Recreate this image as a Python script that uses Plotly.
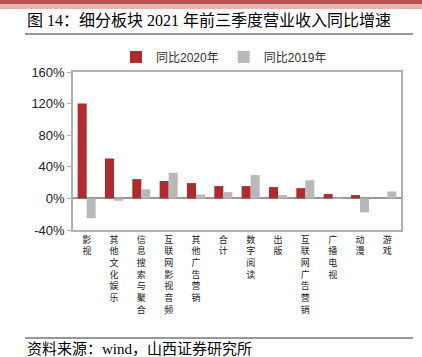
import plotly.graph_objects as go

categories = ["影视", "其他文化娱乐", "信息搜索与聚合", "互联网影视音频", "其他广告营销", "合计",
              "数字阅读", "出版", "互联网广告营销", "广播电视", "动漫", "游戏"]
yoy_2020 = [120.0, 50.5, 24.4, 22.0, 19.4, 15.6, 15.6, 14.3, 13.0, 5.5, 4.2, 0.0]
yoy_2019 = [-25.0, -3.0, 11.4, 32.4, 5.0, 8.0, 29.5, 4.2, 23.0, -0.5, -17.7, 8.8]
y_ticks = [-40, 0, 40, 80, 120, 160]

tick_text = ["<br>".join(list(c)) for c in categories]

fig = go.Figure()
fig.add_trace(go.Bar(x=categories, y=yoy_2020, name="同比2020年",
                     marker=dict(color="#b02a2e", line=dict(width=0))))
fig.add_trace(go.Bar(x=categories, y=yoy_2019, name="同比2019年",
                     marker=dict(color="#b8b8b8", line=dict(width=0))))

W, H = 422, 357
L, R, T, B = 73, 401, 72, 230
pw, ph = R - L, B - T

def px_x(x):
    return (x - L) / pw

def px_y(y):
    return (B - y) / ph

shapes = [
    dict(type="rect", xref="paper", yref="paper", x0=px_x(0), x1=px_x(W), y0=px_y(4), y1=px_y(0),
         fillcolor="#c0504d", line=dict(width=0), layer="above"),
    dict(type="rect", xref="paper", yref="paper", x0=px_x(0), x1=px_x(W), y0=px_y(9), y1=px_y(4),
         fillcolor="#e8b4b2", line=dict(width=0), layer="above"),
    dict(type="line", xref="paper", yref="paper", x0=px_x(25), x1=px_x(413), y0=px_y(34), y1=px_y(34),
         line=dict(color="#333333", width=1)),
    dict(type="line", xref="paper", yref="paper", x0=px_x(25), x1=px_x(413), y0=px_y(338), y1=px_y(338),
         line=dict(color="#333333", width=1)),
]

annotations = [
    dict(text="图 14：细分板块 2021 年前三季度营业收入同比增速", xref="paper", yref="paper",
         x=px_x(25), y=px_y(20), xanchor="left", yanchor="middle", showarrow=False,
         font=dict(family="Liberation Serif, Noto Sans CJK SC", size=16, color="#000000")),
    dict(text="资料来源：wind，山西证券研究所", xref="paper", yref="paper",
         x=px_x(25), y=px_y(349), xanchor="left", yanchor="middle", showarrow=False,
         font=dict(family="Liberation Serif, Noto Sans CJK SC", size=15, color="#000000")),
]

fig.update_layout(
    width=W, height=H,
    margin=dict(l=L, r=W - R, t=T, b=H - B, pad=0),
    paper_bgcolor="white", plot_bgcolor="white",
    barmode="group", bargap=0.34, bargroupgap=0.0,
    showlegend=True,
    legend=dict(orientation="h", x=px_x(116), y=px_y(57), xanchor="left", yanchor="middle",
                font=dict(family="Liberation Sans, Noto Sans CJK SC", size=12, color="#333333"),
                itemwidth=30, bgcolor="rgba(0,0,0,0)", tracegroupgap=0),
    font=dict(family="Liberation Sans, Noto Sans CJK SC", color="#222222"),
    shapes=shapes, annotations=annotations,
)

fig.update_xaxes(tickmode="array", tickvals=categories, ticktext=tick_text,
                 tickangle=0, tickfont=dict(family="Noto Sans CJK SC", size=9, color="#222222"),
                 showline=True, linecolor="#b0b0b0", linewidth=1.5, mirror=True,
                 ticks="", showgrid=False, zeroline=False, automargin=False)
fig.update_yaxes(range=[-40, 160], tickmode="array", tickvals=y_ticks,
                 ticktext=[f"{v}%" for v in y_ticks],
                 tickfont=dict(family="Liberation Sans", size=13, color="#222222"),
                 showline=True, linecolor="#b0b0b0", linewidth=1.5, mirror=True,
                 ticks="outside", ticklen=4, tickcolor="#b0b0b0",
                 showgrid=False, zeroline=True, zerolinecolor="#999999", zerolinewidth=1.5,
                 automargin=False)

fig.write_html("out.html", config={"displayModeBar": False},
               post_script="document.body.style.margin='0';")
